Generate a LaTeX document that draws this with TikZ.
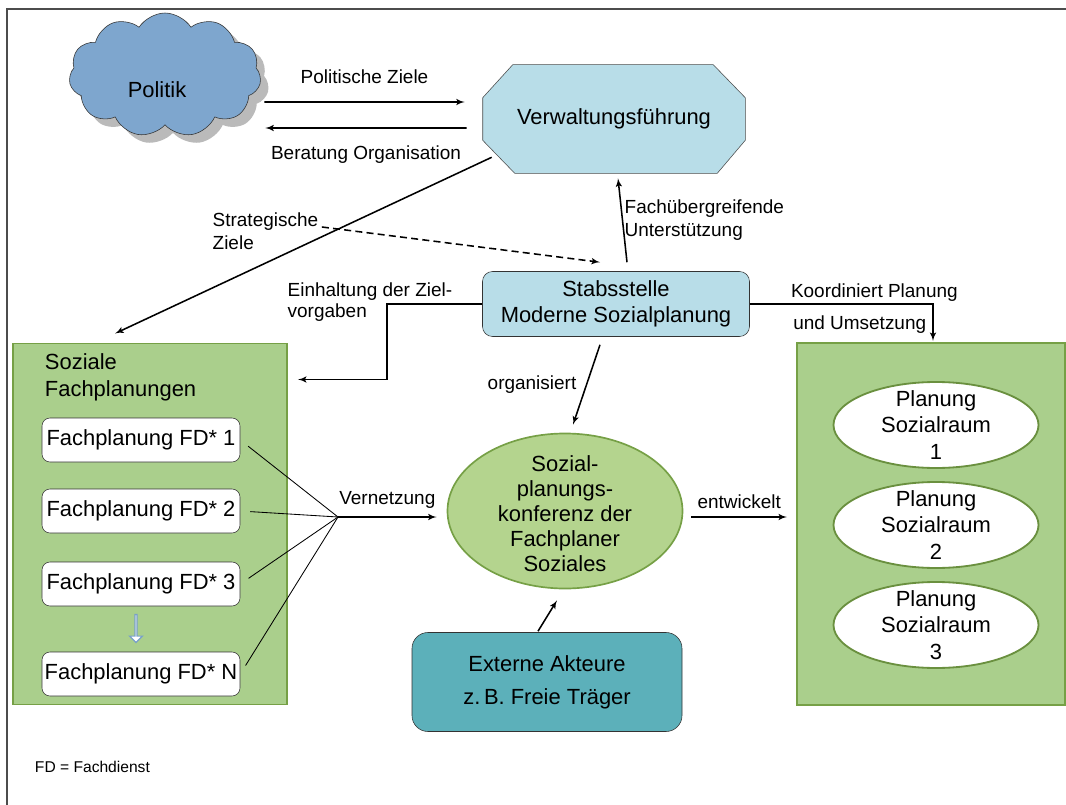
\documentclass[tikz,border=0pt]{standalone}
\usepackage{fontspec}
\setmainfont{Liberation Sans}
\usetikzlibrary{arrows,shapes,shadows,positioning,calc,backgrounds}

\definecolor{wolkeblau}{RGB}{126,166,206}
\definecolor{hellblau}{RGB}{184,221,232}
\definecolor{gruen}{RGB}{170,207,140}
\definecolor{gruenrand}{RGB}{118,160,70}
\definecolor{konfgruen}{RGB}{180,212,142}
\definecolor{petrol}{RGB}{92,176,186}
\definecolor{pfeilblau}{RGB}{120,160,200}

\begin{document}
\begin{tikzpicture}
[x=0.25mm, y=-0.25mm,
every node/.style={font=\fontsize{15.6}{18.5}\selectfont},
lbl/.style={font=\fontsize{13.5}{16}\selectfont, inner sep=1pt},
pfeil/.style={>=latex', line width=1.1pt, ->},
strich/.style={dash pattern=on 5pt off 3pt},
fan/.style={line width=0.6pt, shorten <=2.5mm},
wolke/.style={cloud, cloud puffs=11, cloud puff arc=115, aspect=1.6, draw=black!80,
  fill=wolkeblau, minimum width=48mm, minimum height=31mm,
  drop shadow={shadow xshift=2mm, shadow yshift=-2mm, opacity=.45, fill=black!60}},
achteck/.style={minimum width=65.5mm, minimum height=27mm},
stabbox/.style={rounded corners=2.5mm, draw=black!80, fill=hellblau, align=center,
  minimum width=66.75mm, minimum height=16.25mm},
gruenbox/.style={draw=gruenrand, line width=1.4pt, fill=gruen},
fpbox/.style={draw=black!80, fill=white, rounded corners=2mm, inner sep=1pt,
  minimum width=49.5mm, minimum height=11mm},
konfell/.style={ellipse, draw=gruenrand, line width=1.2pt, fill=konfgruen,
  minimum width=58.75mm, minimum height=38.75mm},
raumell/.style={ellipse, draw=gruenrand!90!black, line width=1.3pt, fill=white,
  minimum width=51.25mm, minimum height=21.5mm},
extbox/.style={rounded corners=4mm, draw=black!80, fill=petrol, align=center,
  minimum width=67.5mm, minimum height=24.75mm, font=\fontsize{15.6}{23.5}\selectfont}]

\useasboundingbox (0,0) rectangle (1066,805);

% frame
\draw[black!70, line width=0.8pt] (7,805) -- (7,9) -- (1066,9);

% top row
\node[wolke] (politik) at (165,75) {};
\node (politiktxt) at (157,90) {Politik};
\node[achteck] (verw) at (614,119) {Verwaltungsführung};
\begin{scope}[on background layer]
\draw[draw=black!70, fill=hellblau]
  ($(verw.north west)+(30,0)$) -- ($(verw.north east)+(-32,0)$) -- ($(verw.north east)+(0,33)$)
  -- ($(verw.south east)+(0,-33)$) -- ($(verw.south east)+(-28,0)$) -- ($(verw.south west)+(32,0)$)
  -- ($(verw.south west)+(0,-33)$) -- ($(verw.north west)+(0,33)$) -- cycle;
\end{scope}
\draw[pfeil] ($(politik.east)+(4,27)$) -- ($(verw.west)+(-18,-17)$)
  node[midway,above=4mm,lbl] {Politische Ziele};
\draw[pfeil] ($(verw.west)+(-16,9)$) -- ($(politik.east)+(5,53)$)
  node[midway,below=4mm,lbl] {Beratung Organisation};

% Stabsstelle
\node[stabbox] (stab) at (616,304) {Stabsstelle\\Moderne Sozialplanung};
\draw[pfeil] ($(stab.north)+(11,-9)$) -- ($(verw.south)+(4,5)$)
  node[midway,right,lbl,align=left] {Fachübergreifende\\Unterstützung};

% left block
\node[gruenbox, minimum width=68.5mm, minimum height=90.25mm] (links) at (150,524) {};
\node[anchor=west, align=left, font=\fontsize{15.6}{19.2}\selectfont] (soz) at (40,377) {Soziale\\Fachplanungen};
\node[fpbox] (fp1) at (141,440) {Fachplanung FD* 1};
\node[fpbox] (fp2) at (141,511) {Fachplanung FD* 2};
\node[fpbox] (fp3) at (141,584) {Fachplanung FD* 3};
\node[fpbox] (fpN) at (141,674) {Fachplanung FD* N};
\node[single arrow, draw=pfeilblau, line width=0.8pt, fill=white, shape border rotate=270, inner sep=0pt,
  minimum width=3.2mm, minimum height=7mm, single arrow head extend=0.8mm] (weiter) at (136,628) {};

\draw[pfeil] ($(verw.south west)+(9,-16)$) -- ($(links.north)+(-35,-9)$);
\node[lbl, anchor=west, align=left] (strat) at (211,231) {Strategische\\Ziele};
\draw[pfeil, strich] ($(strat.east)+(2,-4)$) -- ($(stab.north)+(-16,-9)$);

\node[lbl, anchor=west, align=left, font=\fontsize{13.5}{15}\selectfont] (einh) at (286,302) {Einhaltung der Ziel-\\vorgaben};
\draw[pfeil] (stab.west) -- ++(-95,0) |- ($(links.north east)+(10,37)$);

% Sozialplanungskonferenz
\node[konfell] (konf) at (565,511) {};
\node[align=center, font=\fontsize{15.6}{17.8}\selectfont] (konftxt) at (565,514) {Sozial-\\planungs-\\konferenz der\\Fachplaner\\Soziales};

\coordinate (vern) at (338,517);
\foreach \n in {fp1,fp2,fp3,fpN}
\draw[fan] (\n.east) -- (vern);
\draw[pfeil] (vern) -- ($(konf.west)+(-10,6)$) node[midway,above=1.5mm,lbl] {Vernetzung};

\draw[pfeil] ($(stab.south)+(-16,8)$) -- ($(konf.north)+(8,-8)$)
  node[midway,left=2mm,lbl] {organisiert};

% right block
\node[gruenbox, minimum width=67mm, minimum height=90.5mm] (rechts) at (931,524) {};
\foreach \i/\y in {1/425,2/525,3/625} {
\node[raumell] (raum\i) at (936,\y) {};
\node[align=center, font=\fontsize{15.6}{18.9}\selectfont] (raumtxt\i) at (936,\y) {Planung\\Sozialraum\\\i};
}
\draw[pfeil] (stab.east) -| ($(rechts.north)+(2,-1)$)
  node[pos=0.34,above,lbl] {Koordiniert Planung}
  node[pos=0.3,below=2.5mm,lbl] {und Umsetzung};
\draw[pfeil] ($(konf.east)+(8,6)$) -- ($(rechts.west)+(-9,-7)$)
  node[midway,above=1.5mm,lbl] {entwickelt};

% external actors
\node[extbox] (ext) at (547,682) {Externe Akteure\\z.\,B. Freie Träger};
\draw[pfeil] ($(ext.north)+(-9,-1)$) -- ($(konf.south)+(-8,11)$);

\node[anchor=west, font=\fontsize{11.1}{13}\selectfont] (fd) at (30,767) {FD = Fachdienst};
\end{tikzpicture}
\end{document}
